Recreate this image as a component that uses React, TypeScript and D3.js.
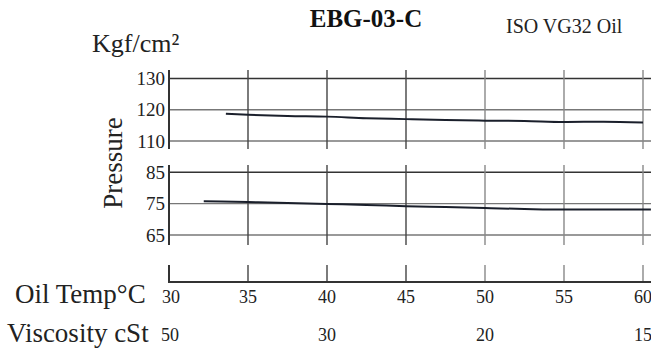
import React from "react";
import * as d3 from "d3";

const tempTicks = [30, 35, 40, 45, 50, 55, 60];
const viscosityLabels = ["50", "30", "20", "15"];
const viscosityTemps = [30, 40, 50, 60];
const upperTicks = [110, 120, 130];
const lowerTicks = [65, 75, 85];

const upperTemps = [33.6, 35, 37.5, 40, 42.5, 45, 47.5, 50, 52.5, 55, 57.5, 60];
const upperValues = [118.7, 118.4, 118.0, 117.8, 117.3, 117.0, 116.7, 116.5, 116.4, 116.1, 116.2, 115.9];
const lowerTemps = [32.2, 35, 37.5, 40, 42.5, 45, 47.5, 50, 52.5, 55, 57.5, 60, 60.5];
const lowerValues = [75.8, 75.5, 75.2, 74.9, 74.6, 74.2, 73.9, 73.6, 73.3, 73.1, 73.1, 73.1, 73.1];

const W = 651;
const H = 353;
const FONT = "Liberation Serif, DejaVu Serif, serif";

export default function App() {
  const x = d3.scaleLinear().domain([30, 60]).range([169, 643]);
  const yU = d3.scaleLinear().domain([110, 130]).range([141, 78.5]);
  const yL = d3.scaleLinear().domain([65, 85]).range([235, 172.3]);
  const right = W;
  const baseY = 282;

  const lineU = d3
    .line<number>()
    .x((_, i) => x(upperTemps[i]))
    .y((v) => yU(v))
    .curve(d3.curveMonotoneX);
  const lineL = d3
    .line<number>()
    .x((_, i) => x(lowerTemps[i]))
    .y((v) => yL(v))
    .curve(d3.curveMonotoneX);

  const vColor = (t: number) => (t === 30 ? "#333" : t <= 45 ? "#444" : "#888");
  const hColor = (i: number, n: number) => (i === n - 1 ? "#333" : "#777");
  const ts = { fontFamily: FONT };

  const panel = (
    ticks: number[],
    y: d3.ScaleLinear<number, number>,
    top: number,
    bottom: number,
    key: string
  ) => (
    <g key={key}>
      {ticks.map((t, i) => (
        <line
          key={"h" + t}
          x1={x(30)}
          x2={right}
          y1={y(t)}
          y2={y(t)}
          stroke={hColor(i, ticks.length)}
          strokeWidth={1.4}
        />
      ))}
      {tempTicks.map((t) => (
        <line
          key={"v" + t}
          x1={x(t)}
          x2={x(t)}
          y1={top}
          y2={bottom}
          stroke={vColor(t)}
          strokeWidth={t === 30 ? 2 : 1.4}
        />
      ))}
      {ticks.map((t) => (
        <text
          key={"l" + t}
          x={165}
          y={y(t) + 6.5}
          textAnchor="end"
          fontSize={19}
          fill="#222"
          style={ts}
        >
          {t}
        </text>
      ))}
    </g>
  );

  return (
    <svg
      width={W}
      height={H}
      style={{ position: "absolute", left: 0, top: 0, background: "#fff", fontFamily: FONT }}
    >
      <text x={366} y={27} textAnchor="middle" fontSize={25} fontWeight="bold" fill="#111" style={ts}>
        EBG-03-C
      </text>
      <text x={506} y={33} fontSize={20} fill="#222" style={ts}>
        ISO VG32 Oil
      </text>
      <text x={92} y={52} fontSize={26} fill="#222" style={ts}>
        Kgf/cm²
      </text>
      <text
        transform={`translate(122,163) rotate(-90)`}
        textAnchor="middle"
        fontSize={27}
        fill="#222"
        style={ts}
      >
        Pressure
      </text>

      {panel(upperTicks, yU, 70, 149, "u")}
      {panel(lowerTicks, yL, 165, 245, "l")}

      <path d={lineU(upperValues) || ""} fill="none" stroke="#1a1f2b" strokeWidth={2} />
      <path d={lineL(lowerValues) || ""} fill="none" stroke="#1a1f2b" strokeWidth={2} />

      {tempTicks.map((t) => (
        <line
          key={"b" + t}
          x1={x(t)}
          x2={x(t)}
          y1={265}
          y2={baseY}
          stroke={vColor(t)}
          strokeWidth={t === 30 ? 2 : 1.4}
        />
      ))}
      <line x1={x(30) - 1} x2={right} y1={baseY} y2={baseY} stroke="#333" strokeWidth={2.2} />

      {tempTicks.map((t) => (
        <text key={"t" + t} x={x(t) + (t === 30 ? 2 : 0)} y={303} textAnchor="middle" fontSize={18} fill="#222" style={ts}>
          {t}
        </text>
      ))}
      {viscosityLabels.map((v, i) => (
        <text key={"vs" + v} x={x(viscosityTemps[i]) + (i === 0 ? 1 : 0)} y={341} textAnchor="middle" fontSize={18} fill="#222" style={ts}>
          {v}
        </text>
      ))}
      <text x={15} y={303} fontSize={27} fill="#222" style={ts}>
        Oil Temp°C
      </text>
      <text x={7} y={342} fontSize={27} fill="#222" style={ts}>
        Viscosity cSt
      </text>
    </svg>
  );
}
